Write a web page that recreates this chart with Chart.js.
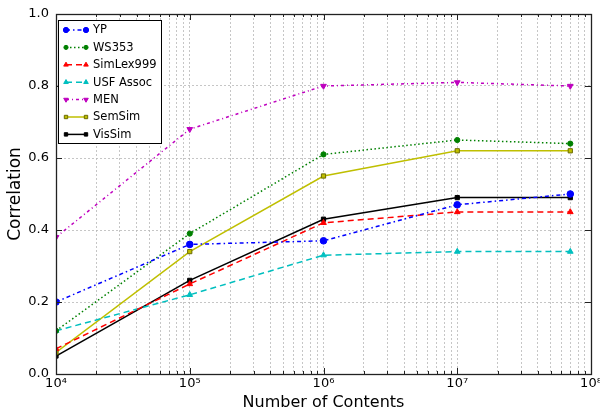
<!DOCTYPE html>
<html>
<head>
<meta charset="utf-8">
<script src="https://cdn.jsdelivr.net/npm/chart.js@4/dist/chart.umd.min.js"></script>
<style>
  html, body { margin: 0; padding: 0; background: #fff; }
  #wrap { width: 600px; height: 412px; }
</style>
</head>
<body>
<div id="wrap"><canvas id="c" width="600" height="412"></canvas></div>
<script>
// data
const contents = [1e4, 1e5, 1e6, 1e7, 7e7];
const yp = [0.20, 0.36, 0.37, 0.47, 0.50];
const ws353 = [0.12, 0.39, 0.61, 0.65, 0.64];
const simlex = [0.07, 0.25, 0.42, 0.45, 0.45];
const usf = [0.12, 0.22, 0.33, 0.34, 0.34];
const men = [0.38, 0.68, 0.80, 0.81, 0.80];
const semsim = [0.06, 0.34, 0.55, 0.62, 0.62];
const vissim = [0.05, 0.26, 0.43, 0.49, 0.49];

const xTicks = [];
for (let e = 4; e < 8; e++) {
    for (let m = 1; m < 10; m++) xTicks.push(m * Math.pow(10, e));
}
xTicks.push(1e8);
const yTicks = [0, 0.2, 0.4, 0.6, 0.8, 1.0];
const sup = {4: '⁴', 5: '⁵', 6: '⁶', 7: '⁷', 8: '⁸'};

const FONT = "'DejaVu Sans', sans-serif";

function series(label, values, color, dash, style, rot, radius, edge) {
    return {
        label: label,
        data: values.map((v, i) => ({x: contents[i], y: v})),
        borderColor: color,
        backgroundColor: color,
        borderWidth: 1.5,
        borderDash: dash,
        pointStyle: style,
        pointRotation: rot || 0,
        pointRadius: radius,
        pointBorderColor: edge || color,
        pointBorderWidth: 1,
        pointBackgroundColor: color,
        tension: 0,
        fill: false
    };
}

const datasets = [
    series('YP', yp, '#0000ff', [4, 3, 1.5, 3], 'circle', 0, 3.3),
    series('WS353', ws353, '#008000', [1.5, 2.5], 'circle', 0, 2.6),
    series('SimLex999', simlex, '#ff0000', [6, 4], 'triangle', 0, 3.3),
    series('USF Assoc', usf, '#00bfbf', [6, 4], 'triangle', 0, 3.3),
    series('MEN', men, '#bf00bf', [3, 3, 1, 3], 'triangle', 180, 3.3),
    series('SemSim', semsim, '#bfbf00', [], 'rect', 0, 3, '#6b6b00'),
    series('VisSim', vissim, '#000000', [], 'rect', 0, 3)
];

// frame, inward ticks and legend box
const framePlugin = {
    id: 'frame',
    afterDatasetsDraw(chart) {
        const ctx = chart.ctx;
        const a = chart.chartArea;
        const xs = chart.scales.x, ys = chart.scales.y;
        ctx.save();
        ctx.strokeStyle = '#222';
        ctx.lineWidth = 1;
        ctx.setLineDash([]);
        // tick marks
        ctx.beginPath();
        xTicks.forEach(v => {
            const px = Math.round(xs.getPixelForValue(v)) + 0.5;
            const major = Math.log10(v) % 1 === 0;
            const len = major ? 6 : 3;
            ctx.moveTo(px, a.bottom); ctx.lineTo(px, a.bottom - len);
            ctx.moveTo(px, a.top); ctx.lineTo(px, a.top + len);
        });
        yTicks.forEach(v => {
            const py = Math.round(ys.getPixelForValue(v)) + 0.5;
            ctx.moveTo(a.left, py); ctx.lineTo(a.left + 6, py);
            ctx.moveTo(a.right, py); ctx.lineTo(a.right - 6, py);
        });
        ctx.stroke();
        ctx.lineWidth = 1.3;
        ctx.strokeRect(Math.round(a.left) + 0.5, Math.round(a.top) + 0.5,
            Math.round(a.right - a.left), Math.round(a.bottom - a.top));

        // legend
        const lx = a.left + 2, ly = a.top + 6, lw = 103, lh = 123;
        ctx.fillStyle = '#fff';
        ctx.fillRect(lx, ly, lw, lh);
        ctx.lineWidth = 1;
        ctx.strokeStyle = '#000';
        ctx.strokeRect(lx + 0.5, ly + 0.5, lw, lh);
        ctx.font = '11.5px ' + FONT;
        ctx.textBaseline = 'middle';
        chart.data.datasets.forEach((ds, i) => {
            const y = ly + 10 + i * 17.4;
            const x0 = lx + 8, x1 = lx + 28;
            ctx.strokeStyle = ds.borderColor;
            ctx.lineWidth = ds.borderWidth;
            ctx.setLineDash(ds.borderDash);
            ctx.beginPath(); ctx.moveTo(x0, y); ctx.lineTo(x1, y); ctx.stroke();
            ctx.setLineDash([]);
            ctx.fillStyle = ds.pointBackgroundColor;
            ctx.strokeStyle = ds.pointBorderColor;
            ctx.lineWidth = 1;
            const opts = {pointStyle: ds.pointStyle, radius: ds.pointRadius * 0.8, rotation: ds.pointRotation, borderWidth: 1};
            Chart.helpers.drawPoint(ctx, opts, x0, y);
            Chart.helpers.drawPoint(ctx, opts, x1, y);
            ctx.fillStyle = '#000';
            ctx.fillText(ds.label, lx + 35, y + 0.5);
        });
        ctx.restore();
    }
};

new Chart(document.getElementById('c'), {
    type: 'line',
    data: { datasets: datasets },
    options: {
        responsive: false,
        animation: false,
        layout: { padding: { top: 14, right: 9, left: 0, bottom: 0 } },
        plugins: { legend: { display: false }, tooltip: { enabled: false } },
        scales: {
            x: {
                type: 'logarithmic',
                min: 1e4,
                max: 1e8,
                afterBuildTicks: s => { s.ticks = xTicks.map(v => ({value: v})); },
                afterFit: s => { s.height = 38; s.paddingRight = 0; s.paddingLeft = 0; },
                ticks: {
                    autoSkip: false,
                    maxRotation: 0,
                    padding: 2,
                    color: '#000',
                    font: { family: FONT, size: 13 },
                    callback: v => {
                        const e = Math.round(Math.log10(v));
                        return Math.abs(Math.log10(v) - e) < 1e-9 ? '10' + sup[e] : '';
                    }
                },
                grid: { color: '#b8b8b8', lineWidth: 0.8, drawTicks: false },
                border: { display: false, dash: [2, 2] },
                title: {
                    display: true, text: 'Number of Contents', color: '#000',
                    font: { family: FONT, size: 16 }, padding: { top: 0, bottom: 0 }
                }
            },
            y: {
                min: 0,
                max: 1,
                afterBuildTicks: s => { s.ticks = yTicks.map(v => ({value: v})); },
                afterFit: s => { s.width = 56; s.paddingTop = 0; s.paddingBottom = 0; },
                ticks: {
                    padding: 7,
                    color: '#000',
                    font: { family: FONT, size: 13 },
                    callback: v => v.toFixed(1)
                },
                grid: { color: '#b8b8b8', lineWidth: 0.8, drawTicks: false },
                border: { display: false, dash: [2, 2] },
                title: {
                    display: true, text: 'Correlation', color: '#000',
                    font: { family: FONT, size: 17 }, padding: { top: 5, bottom: 0 }
                }
            }
        }
    },
    plugins: [framePlugin]
});
</script>
</body>
</html>
